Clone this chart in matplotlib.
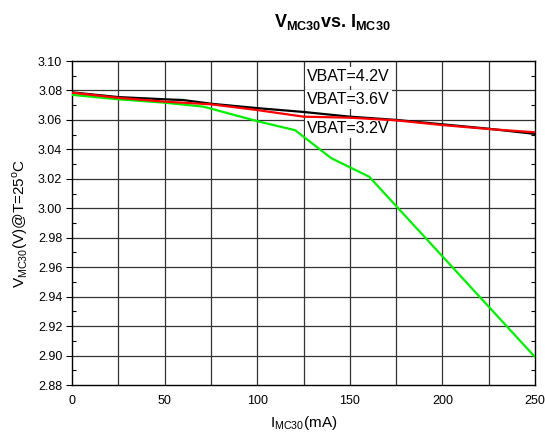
"""V_MC30 vs. I_MC30 load regulation curves."""

import matplotlib
matplotlib.use("Agg")
import matplotlib.pyplot as plt
from matplotlib.ticker import MultipleLocator, FormatStrFormatter

plt.rcParams.update({
    "font.family": ["Liberation Sans", "DejaVu Sans"],
    "mathtext.fontset": "custom",
    "mathtext.rm": "Liberation Sans",
    "mathtext.bf": "Liberation Sans:bold",
    "font.size": 9,
})

# load current (mA) and output voltage (V) for each battery voltage
i_42 = [0, 25, 50, 60, 75, 100, 125, 150, 175, 200, 225, 250]
v_42 = [3.0787, 3.0755, 3.0740, 3.0735, 3.0710, 3.0680, 3.0654, 3.0622, 3.0600, 3.0570, 3.0540, 3.0505]

i_36 = [0, 25, 50, 75, 100, 125, 150, 175, 200, 225, 250]
v_36 = [3.0785, 3.0750, 3.0724, 3.0706, 3.0667, 3.0622, 3.0615, 3.0597, 3.0565, 3.0538, 3.0516]

i_32 = [0, 25, 50, 71, 100.5, 120.5, 140, 160.5, 250]
v_32 = [3.0770, 3.0740, 3.0717, 3.0690, 3.0590, 3.0530, 3.0340, 3.0214, 2.8990]

labels = ["VBAT=4.2V", "VBAT=3.6V", "VBAT=3.2V"]
label_y = [3.0895, 3.0736, 3.0540]

fig = plt.figure(figsize=(5.45, 4.36), dpi=100)
ax = fig.add_axes([72 / 545, 1 - 385 / 436, 463 / 545, 324 / 436])

ax.plot(i_32, v_32, color="#00ee00", linewidth=1.6, zorder=3)
ax.plot(i_42, v_42, color="black", linewidth=1.6, zorder=4)
ax.plot(i_36, v_36, color="#ff0000", linewidth=1.6, zorder=5)

for text, y in zip(labels, label_y):
    ax.text(127, y, text, fontsize=11.5, va="center", ha="left", zorder=2,
            bbox=dict(facecolor="white", edgecolor="none", pad=1.5))

ax.set_xlim(0, 250)
ax.set_ylim(2.88, 3.10)
ax.xaxis.set_major_locator(MultipleLocator(50))
ax.xaxis.set_minor_locator(MultipleLocator(25))
ax.yaxis.set_major_locator(MultipleLocator(0.02))
ax.yaxis.set_minor_locator(MultipleLocator(0.01))
ax.yaxis.set_major_formatter(FormatStrFormatter("%.2f"))

for x in range(25, 250, 25):
    ax.axvline(x, color="#333333", linewidth=0.9, zorder=1)
for k in range(1, 11):
    ax.axhline(2.88 + 0.02 * k, color="#333333", linewidth=0.9, zorder=1)

ax.tick_params(axis="y", which="major", direction="out", length=4, width=0.8,
               left=True, right=False, pad=3)
ax.tick_params(axis="y", which="minor", direction="in", length=3, width=0.8, left=True, right=True)
ax.tick_params(axis="x", which="both", length=0, pad=7)
for s in ax.spines.values():
    s.set_linewidth(1.0)

ax.set_xlabel(r"I$_{\mathrm{MC30}}$(mA)", fontsize=11, labelpad=5)
ax.set_ylabel(r"V$_{\mathrm{MC30}}$(V)@T=25$^{\mathrm{o}}$C", fontsize=11, labelpad=6)

fig.text(332 / 545, 1 - 22 / 436, r"$\mathbf{V}_{\mathbf{MC30}}$vs. $\mathbf{I}_{\mathbf{MC30}}$",
         fontsize=13, fontweight="bold", ha="center", va="center")

fig.savefig("out.png", dpi=100)
